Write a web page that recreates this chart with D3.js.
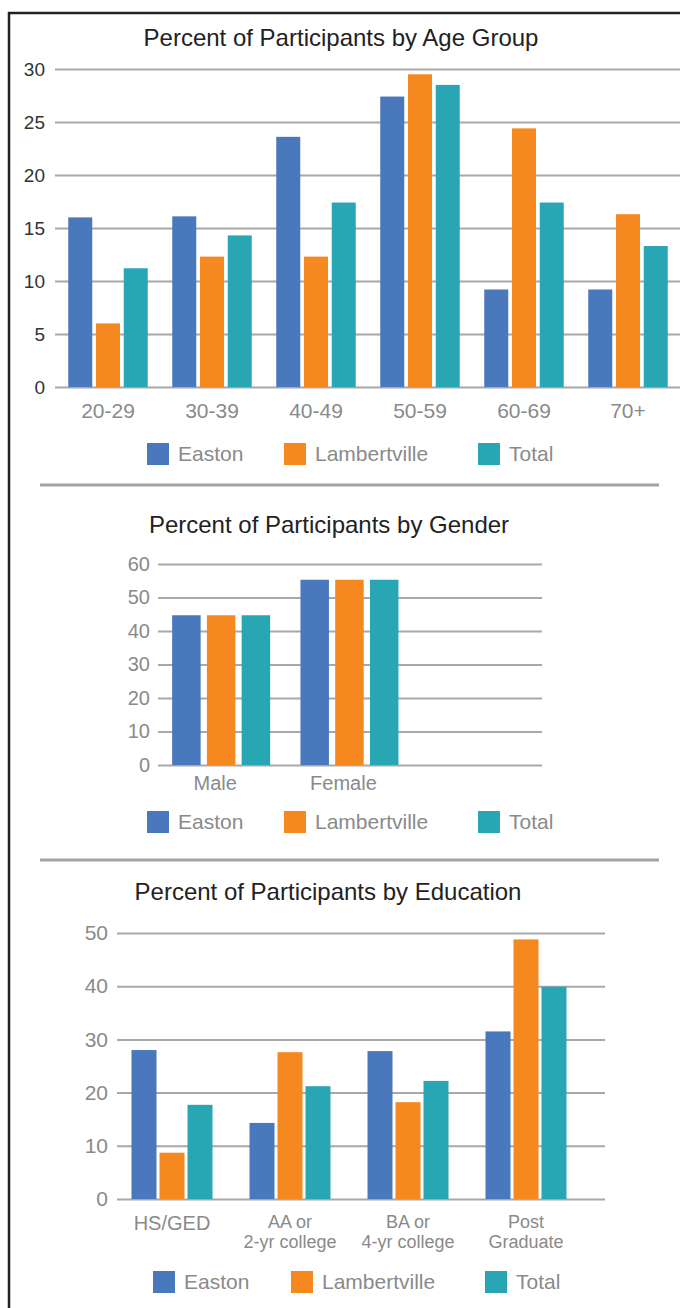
<!DOCTYPE html>
<html><head><meta charset="utf-8">
<script src="https://cdn.jsdelivr.net/npm/d3@7"></script>
<style>
html,body{margin:0;padding:0;background:#fff;}
svg{display:block;}
text{font-family:"Liberation Sans",Arial,sans-serif;}
</style></head>
<body>
<svg id="chart" width="680" height="1308"></svg>
<script>
// ---- data ----
const series = ["Easton", "Lambertville", "Total"];
const colors = ["#4a78bc", "#f5891f", "#29a6b4"];

const ageGroups = ["20-29", "30-39", "40-49", "50-59", "60-69", "70+"];
const ageEaston = [16.0, 16.1, 23.6, 27.4, 9.2, 9.2];
const ageLambertville = [6.0, 12.3, 12.3, 29.5, 24.4, 16.3];
const ageTotal = [11.2, 14.3, 17.4, 28.5, 17.4, 13.3];
const ageTicks = [0, 5, 10, 15, 20, 25, 30];

const genders = ["Male", "Female"];
const genderEaston = [44.7, 55.3];
const genderLambertville = [44.7, 55.3];
const genderTotal = [44.7, 55.3];
const genderTicks = [0, 10, 20, 30, 40, 50, 60];

const eduLevels = ["HS/GED", "AA or\n2-yr college", "BA or\n4-yr college", "Post\nGraduate"];
const eduEaston = [28.0, 14.3, 27.8, 31.5];
const eduLambertville = [8.7, 27.6, 18.2, 48.8];
const eduTotal = [17.7, 21.2, 22.2, 39.9];
const eduTicks = [0, 10, 20, 30, 40, 50];

const titles = ["Percent of Participants by Age Group", "Percent of Participants by Gender", "Percent of Participants by Education"];

// ---- drawing ----
const svg = d3.select("#chart");

// frame
svg.append("line").attr("x1", 8).attr("x2", 680).attr("y1", 13).attr("y2", 13).attr("stroke", "#222").attr("stroke-width", 2.5);
svg.append("line").attr("x1", 9).attr("x2", 9).attr("y1", 12).attr("y2", 1308).attr("stroke", "#222").attr("stroke-width", 2.5);

// separators
[485, 860].forEach(y => {
  svg.append("line").attr("x1", 40).attr("x2", 659).attr("y1", y).attr("y2", y)
    .attr("stroke", "#a3a3a3").attr("stroke-width", 3);
});

function drawChart(cfg) {
  const g = svg.append("g");
  // title
  g.append("text").attr("x", cfg.titleX).attr("y", cfg.titleY).attr("text-anchor", "middle")
    .attr("font-size", 24).attr("fill", "#222").text(cfg.title);

  const y = d3.scaleLinear().domain([0, d3.max(cfg.ticks)]).range([cfg.y0, cfg.yTop]);

  // gridlines + tick labels
  const yAxis = d3.axisLeft(y).tickValues(cfg.ticks).tickSize(-(cfg.gridX1 - cfg.gridX0)).tickPadding(cfg.tickPad).tickFormat(d3.format("d"));
  const ag = g.append("g").attr("transform", `translate(${cfg.gridX0},0)`).call(yAxis);
  ag.select(".domain").remove();
  ag.selectAll(".tick line").attr("stroke", "#a8a8a8").attr("stroke-width", 2);
  ag.selectAll(".tick text").attr("font-size", cfg.tickSize).attr("fill", cfg.tickColor)
    .attr("font-family", '"Liberation Sans",Arial,sans-serif');

  const x0 = d3.scaleBand().domain(cfg.cats).range(cfg.bandRange).paddingInner(0).paddingOuter(0);
  const gw = cfg.groupWidth;
  const x1 = d3.scaleBand().domain(series).range([-gw / 2, gw / 2]).paddingInner(cfg.barPad).paddingOuter(0);
  const color = d3.scaleOrdinal().domain(series).range(colors);

  const rows = cfg.cats.map((c, i) => ({ cat: c, vals: series.map((s, j) => ({ s, v: cfg.values[j][i] })) }));
  const grp = g.selectAll(".grp").data(rows).join("g")
    .attr("transform", d => `translate(${x0(d.cat) + x0.bandwidth() / 2},0)`);
  grp.selectAll("rect").data(d => d.vals).join("rect")
    .attr("x", d => x1(d.s)).attr("width", x1.bandwidth())
    .attr("y", d => y(d.v)).attr("height", d => y(0) - y(d.v))
    .attr("fill", d => color(d.s));

  // x labels
  const xAxis = d3.axisBottom(x0).tickSize(0).tickFormat("");
  const xg = g.append("g").attr("transform", `translate(0,${cfg.y0})`).call(xAxis);
  xg.select(".domain").remove();
  xg.selectAll(".tick").each(function (d) {
    const lines = d.split("\n");
    lines.forEach((line, k) => {
      d3.select(this).append("text").attr("text-anchor", "middle")
        .attr("font-size", lines.length > 1 ? cfg.xSize2 : cfg.xSize).attr("fill", "#8a8a8a")
        .attr("font-family", '"Liberation Sans",Arial,sans-serif')
        .attr("x", cfg.xShift || 0)
        .attr("y", (lines.length > 1 ? cfg.xLabelDy2 : cfg.xLabelDy) + k * cfg.xLineH)
        .text(line);
    });
  });

  // legend
  const lg = g.append("g");
  series.forEach((s, j) => {
    const lx = cfg.legendX + cfg.legendOffsets[j];
    lg.append("rect").attr("x", lx).attr("y", cfg.legendY).attr("width", 22).attr("height", 22).attr("fill", color(s));
    lg.append("text").attr("x", lx + 31).attr("y", cfg.legendY + 18).attr("font-size", 21).attr("fill", "#8a8a8a").text(s);
  });
}

drawChart({
  title: titles[0], titleX: 341, titleY: 46,
  cats: ageGroups, values: [ageEaston, ageLambertville, ageTotal], ticks: ageTicks,
  y0: 387, yTop: 69, gridX0: 55, gridX1: 680, tickPad: 10, tickSize: 19, tickColor: "#333",
  bandRange: [56, 680], groupWidth: 79.5, barPad: 0.135,
  xSize: 21, xSize2: 21, xLabelDy: 31, xLabelDy2: 31, xLineH: 18, xShift: 0,
  legendX: 147, legendOffsets: [0, 137, 331], legendY: 443
});

drawChart({
  title: titles[1], titleX: 329, titleY: 533,
  cats: genders, values: [genderEaston, genderLambertville, genderTotal], ticks: genderTicks,
  y0: 765, yTop: 564, gridX0: 158, gridX1: 542, tickPad: 8, tickSize: 20, tickColor: "#8a8a8a",
  bandRange: [157, 157 + 2 * 128.3], groupWidth: 98, barPad: 0.18,
  xSize: 20, xSize2: 20, xLabelDy: 25, xLabelDy2: 25, xLineH: 18, xShift: -6,
  legendX: 147, legendOffsets: [0, 137, 331], legendY: 811
});

drawChart({
  title: titles[2], titleX: 328, titleY: 900,
  cats: eduLevels, values: [eduEaston, eduLambertville, eduTotal], ticks: eduTicks,
  y0: 1199, yTop: 933, gridX0: 117, gridX1: 605, tickPad: 9, tickSize: 21, tickColor: "#8a8a8a",
  bandRange: [113, 585], groupWidth: 81, barPad: 0.107,
  xSize: 20, xSize2: 18, xLabelDy: 31, xLabelDy2: 29, xLineH: 20, xShift: 0,
  legendX: 153, legendOffsets: [0, 138, 332], legendY: 1271
});
</script>
</body></html>
